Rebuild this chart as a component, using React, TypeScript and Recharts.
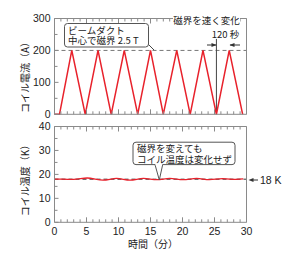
import React from 'react';
import { LineChart, Line, XAxis, YAxis, ReferenceLine } from 'recharts';

// time (min) / coil current (A)
const currentTime = [0, 0.78, 2.7, 4.8, 6.8, 8.86, 10.9, 13.0, 15.0, 17.0, 19.1, 21.2, 23.2, 25.3, 27.3, 29.4];
const currentAmp = [0, 0, 200, 0, 200, 0, 200, 0, 200, 0, 200, 0, 200, 0, 200, 0];

// time (min) / coil temperature (K)
const tempTime = [0, 1.2, 3.0, 5.1, 7.6, 9.7, 11.8, 13.9, 16.0, 18.0, 20.1, 22.2, 24.2, 26.3, 28.4, 29.5];
const tempK = [18, 18, 17.9, 18.5, 17.6, 18.3, 17.6, 18.3, 17.8, 18.3, 17.8, 18.3, 17.8, 18.2, 17.9, 18.1];

const minuteTicks = Array.from({ length: 31 }, (_, i) => i);
const currentTicks = [0, 50, 100, 150, 200, 250, 300];
const tempTicks = [0, 5, 10, 15, 20, 25, 30, 35, 40];

const currentData = currentTime.map((t, i) => ({ t, a: currentAmp[i] }));
const tempData = tempTime.map((t, i) => ({ t, k: tempK[i] }));

const RED = '#e8212b';
const AXIS = '#8a8a8a';
const TEXT = '#222';
const JP = '"Noto Sans CJK JP", "Noto Sans", sans-serif';
const NUM = '"Liberation Sans", Arial, sans-serif';

function XTick(props: any) {
  const { x, y, payload, side, labels } = props;
  const v = payload.value;
  const major = v % 5 === 0;
  const len = major ? 5 : 3;
  const dir = side === 'top' ? 1 : -1;
  return (
    <g>
      <line x1={x} x2={x} y1={y} y2={y + dir * len} stroke={AXIS} />
      {labels && major && (
        <text x={x} y={y + 12.5} textAnchor="middle" fontSize={10.5} fontFamily={NUM} fill={TEXT}>
          {v}
        </text>
      )}
    </g>
  );
}

function YTick(props: any) {
  const { x, y, payload, side, labels, majorStep } = props;
  const v = payload.value;
  const major = v % majorStep === 0;
  const len = major ? 4 : 3;
  const dir = side === 'left' ? 1 : -1;
  return (
    <g>
      <line x1={x} x2={x + dir * len} y1={y} y2={y} stroke={AXIS} />
      {labels && major && (
        <text x={x - 4} y={y + 3.6} textAnchor="end" fontSize={10.5} fontFamily={NUM} fill={TEXT}>
          {v}
        </text>
      )}
    </g>
  );
}

// axes kept 1px thick so recharts still draws them
function Frame({ yTicks, yDomain, majorStep, xLabels }: any) {
  return [
    <XAxis key="xb" xAxisId="b" dataKey="t" type="number" domain={[0, 30]} ticks={minuteTicks} interval={0}
      height={1} tickSize={0} tickMargin={0} tickLine={false} axisLine={{ stroke: AXIS }}
      tick={(p: any) => <XTick {...p} side="bottom" labels={xLabels} />} />,
    <XAxis key="xt" xAxisId="t" orientation="top" dataKey="t" type="number" domain={[0, 30]} ticks={minuteTicks}
      interval={0} height={1} tickSize={0} tickMargin={0} tickLine={false} axisLine={{ stroke: AXIS }}
      tick={(p: any) => <XTick {...p} side="top" />} />,
    <YAxis key="yl" yAxisId="l" type="number" domain={yDomain} ticks={yTicks} interval={0} width={1}
      tickSize={0} tickMargin={0} tickLine={false} axisLine={{ stroke: AXIS }}
      tick={(p: any) => <YTick {...p} side="left" labels majorStep={majorStep} />} />,
    <YAxis key="yr" yAxisId="r" orientation="right" type="number" domain={yDomain} ticks={yTicks} interval={0}
      width={1} tickSize={0} tickMargin={0} tickLine={false} axisLine={{ stroke: AXIS }}
      tick={(p: any) => <YTick {...p} side="right" majorStep={majorStep} />} />,
  ];
}

function Arrowhead({ x, y, dir }: { x: number; y: number; dir: number }) {
  return <polygon points={`${x},${y} ${x - dir * 5},${y - 2} ${x - dir * 5},${y + 2}`} fill="#333" />;
}

export default function App() {
  return (
    <div style={{ position: 'absolute', left: 0, top: 0, width: 300, height: 254, background: '#fff' }}>
      <div style={{ position: 'absolute', left: 0, top: 0 }}>
        <LineChart width={300} height={120} data={currentData}
          margin={{ top: 17.5, right: 52.5, bottom: 4.7, left: 53.5 }}>
          {Frame({ yTicks: currentTicks, yDomain: [0, 300], majorStep: 100, xLabels: false })}
          <ReferenceLine xAxisId="b" yAxisId="l" y={200} stroke="#777" strokeDasharray="4 3" />
          <ReferenceLine xAxisId="b" yAxisId="l" segment={[{ x: 25.3, y: 0 }, { x: 25.3, y: 236 }]} stroke="#444" />
          <Line xAxisId="b" yAxisId="l" dataKey="a" stroke={RED} strokeWidth={1.5} dot={false}
            type="linear" isAnimationActive={false} />
        </LineChart>
      </div>
      <div style={{ position: 'absolute', left: 0, top: 120 }}>
        <LineChart width={300} height={134} data={tempData}
          margin={{ top: 5.5, right: 52.5, bottom: 30.7, left: 53.5 }}>
          {Frame({ yTicks: tempTicks, yDomain: [0, 40], majorStep: 10, xLabels: true })}
          <ReferenceLine xAxisId="b" yAxisId="l" y={18} stroke="#333" strokeDasharray="4 3" />
          <Line xAxisId="b" yAxisId="l" dataKey="k" stroke={RED} strokeWidth={1.3} dot={false}
            type="monotone" isAnimationActive={false} />
        </LineChart>
      </div>
      <svg width={300} height={254} style={{ position: 'absolute', left: 0, top: 0, pointerEvents: 'none' }}>
        {/* top chart annotations */}
        <line x1={147} y1={43} x2={154} y2={50} stroke="#444" />
        <rect x={64.5} y={23.5} width={84} height={23.5} rx={3} fill="#fff" stroke="#555" />
        <text x={68} y={33.6} fontSize={9.5} fontFamily={JP} fill={TEXT}>ビームダクト</text>
        <text x={68} y={44.4} fontSize={9.5} fontFamily={JP} fill={TEXT}>中心で磁界 2.5 T</text>
        <rect x={173} y={14.5} width={67} height={12} fill="#fff" />
        <text x={206.5} y={24.2} textAnchor="middle" fontSize={9.5} fontFamily={JP} fill={TEXT}>磁界を速く変化</text>
        <text x={225.5} y={37.5} textAnchor="middle" fontSize={9.5} fontFamily={JP} fill={TEXT}>120 秒</text>
        <line x1={207} y1={45} x2={216} y2={45} stroke="#333" />
        <Arrowhead x={216.5} y={45} dir={1} />
        <line x1={230} y1={45} x2={240} y2={45} stroke="#333" />
        <Arrowhead x={229.5} y={45} dir={-1} />
        {/* bottom chart annotations */}
        <rect x={133} y={142.2} width={102} height={22.4} rx={3} fill="#fff" stroke="#555" />
        <path d="M155,164.6 L159.3,180 L162.7,164.6" fill="#fff" stroke="#555" />
        <line x1={155.5} y1={164.6} x2={162.2} y2={164.6} stroke="#fff" strokeWidth={1.5} />
        <text x={137} y={151.8} fontSize={9.5} fontFamily={JP} fill={TEXT}>磁界を変えても</text>
        <text x={137} y={162.6} fontSize={9.5} fontFamily={JP} fill={TEXT}>コイル温度は変化せず</text>
        <line x1={251} y1={180} x2={258} y2={180} stroke="#333" />
        <Arrowhead x={248.5} y={180} dir={-1} />
        <text x={260} y={184.3} fontSize={10.5} fontFamily={NUM} fill={TEXT}>18 K</text>
        {/* axis titles */}
        <text transform="translate(28.5,75) rotate(-90)" textAnchor="middle" fontSize={10} fontFamily={JP} fill={TEXT}>コイル電流（A）</text>
        <text transform="translate(28.5,178) rotate(-90)" textAnchor="middle" fontSize={10} fontFamily={JP} fill={TEXT}>コイル温度（K）</text>
        <text x={153} y={248} textAnchor="middle" fontSize={10} fontFamily={JP} fill={TEXT}>時間（分）</text>
      </svg>
    </div>
  );
}
